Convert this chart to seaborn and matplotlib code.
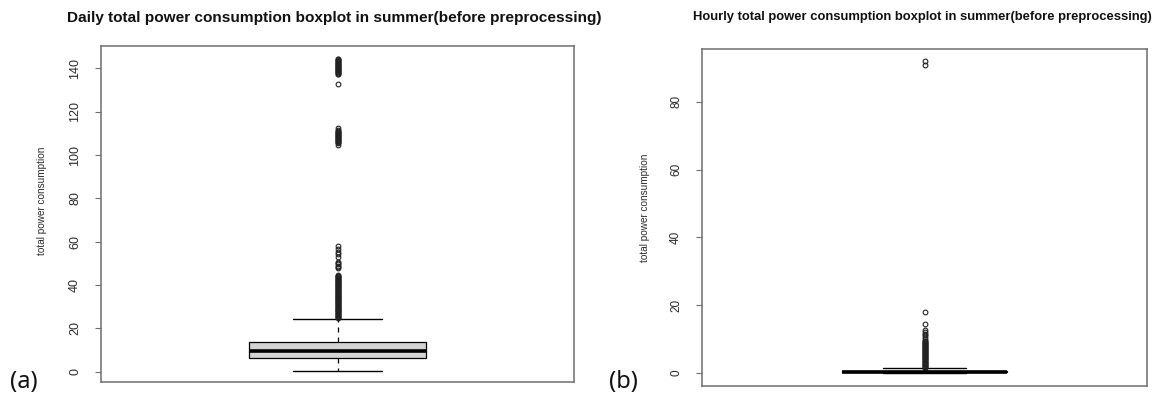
import numpy as np
import pandas as pd
import matplotlib
matplotlib.use("Agg")
import matplotlib.pyplot as plt
import seaborn as sns

# Daily totals: bulk of the distribution as value / frequency pairs
daily_values = [0.5, 3.0, 6.3, 8.0, 9.7, 11.5, 13.6, 18.0, 24.4]
daily_counts = [1, 100, 300, 150, 300, 150, 300, 100, 1]
# Daily totals beyond the upper fence
daily_outliers = [
    24.8, 25.1, 25.4, 25.7, 26.0, 26.3, 26.6, 26.9, 27.2, 27.5, 27.8, 28.1,
    28.4, 28.7, 29.0, 29.3, 29.6, 29.9, 30.2, 30.5, 30.8, 31.1, 31.4, 31.7,
    32.0, 32.3, 32.6, 32.9, 33.2, 33.5, 33.8, 34.1, 34.4, 34.7, 35.0, 35.3,
    35.6, 35.9, 36.2, 36.5, 36.8, 37.1, 37.4, 37.7, 38.0, 38.3, 38.6, 38.9,
    39.2, 39.5, 39.8, 40.1, 40.4, 40.7, 41.0, 41.3, 41.6, 41.9, 42.2, 42.5,
    42.8, 43.1, 43.4, 43.7, 44.0, 44.3, 44.6,
    47.7, 48.3, 49.0, 49.6, 50.2, 50.8, 53.1, 54.2, 55.1, 56.5, 58.2,
    104.5, 105.6, 105.9, 106.2, 106.5, 106.8, 107.1, 107.4, 107.7, 108.0,
    108.3, 108.6, 108.9, 109.2, 109.5, 109.8, 110.1, 110.4, 110.7, 111.0,
    111.5, 112.3,
    132.9, 137.2, 137.5, 137.8, 138.1, 138.4, 138.7, 139.0, 139.3, 139.6,
    139.9, 140.2, 140.5, 140.8, 141.1, 141.4, 141.7, 142.0, 142.3, 142.6,
    142.9, 143.2, 143.5, 143.8, 144.1, 144.4,
]

# Hourly totals: bulk as value / frequency pairs
hourly_values = [0.0, 0.05, 0.1, 0.2, 0.3, 0.45, 0.6, 0.9, 1.3]
hourly_counts = [1, 200, 600, 300, 600, 300, 600, 200, 1]
# Hourly totals beyond the upper fence
hourly_outliers = [
    1.5, 1.7, 1.9, 2.1, 2.3, 2.5, 2.7, 2.9, 3.1, 3.3, 3.5, 3.7, 3.9, 4.1,
    4.3, 4.5, 4.7, 4.9, 5.1, 5.3, 5.5, 5.7, 5.9, 6.1, 6.3, 6.5, 6.7, 6.9,
    7.1, 7.3, 7.5, 7.7, 7.9, 8.1, 8.3, 8.5, 8.7, 8.9, 9.1, 9.3, 9.5,
    10.0, 10.5, 11.0, 11.5, 12.1, 12.6, 14.4, 18.0, 90.9, 92.0,
]

daily_ticks = [0, 20, 40, 60, 80, 100, 120, 140]
hourly_ticks = [0, 20, 40, 60, 80]

daily_title = "Daily total power consumption boxplot in summer(before preprocessing)"
hourly_title = "Hourly total power consumption boxplot in summer(before preprocessing)"
y_label = "total power consumption"

daily = np.concatenate([np.repeat(daily_values, daily_counts), daily_outliers])
hourly = np.concatenate([np.repeat(hourly_values, hourly_counts), hourly_outliers])
df_daily = pd.DataFrame({"power": daily})
df_hourly = pd.DataFrame({"power": hourly})

sns.set_style("white")
plt.rcParams["font.family"] = ["Liberation Sans", "DejaVu Sans"]

fig = plt.figure(figsize=(11.68, 4.05), dpi=100)
ax1 = fig.add_axes([101 / 1168, 23 / 405, 473 / 1168, 336 / 405])
ax2 = fig.add_axes([702 / 1168, 19 / 405, 445 / 1168, 337 / 405])

frame_col = "#6e6e6e"
text_col = "#2b2b2b"


def draw_box(ax, df, ylim, ticks, tick_size, label_pos):
    sns.boxplot(
        data=df, y="power", ax=ax, width=0.373, color="#D3D3D3",
        saturation=1, linecolor="black", linewidth=1.0, whis=1.5,
        flierprops=dict(marker="o", markerfacecolor="none",
                        markeredgecolor="#222222", markeredgewidth=0.8,
                        markersize=3.4),
        medianprops=dict(color="black", linewidth=2.6),
        whiskerprops=dict(color="black", linestyle=(0, (4, 4)), linewidth=0.9),
        capprops=dict(color="black", linewidth=1.0),
        boxprops=dict(edgecolor="black", linewidth=0.9),
    )
    ax.set_xlim(-0.5, 0.5)
    ax.set_ylim(*ylim)
    ax.set_xticks([])
    ax.set_xlabel("")
    ax.set_yticks(ticks)
    ax.set_yticklabels([str(t) for t in ticks])
    ax.tick_params(axis="y", which="both", left=True, length=4.3, width=0.8,
                   color=frame_col, pad=10, labelsize=tick_size,
                   labelcolor=text_col, labelrotation=90)
    for lbl in ax.get_yticklabels():
        lbl.set_va("center")
    for sp in ax.spines.values():
        sp.set_visible(True)
        sp.set_color(frame_col)
        sp.set_linewidth(1.1)
    ax.set_ylabel(y_label, fontsize=7.2, color=text_col)
    ax.yaxis.set_label_coords(label_pos[0], label_pos[1])


draw_box(ax1, df_daily, (-4.75, 150.3), daily_ticks, 9, (-0.115, 0.54))
draw_box(ax2, df_hourly, (-3.93, 95.6), hourly_ticks, 8.5, (-0.117, 0.53))

fig.text(334 / 1168, 1 - 18 / 405, daily_title, ha="center", va="center",
         fontsize=11.1, fontweight="bold", color="#111111")
fig.text(922 / 1168, 1 - 17 / 405, hourly_title, ha="center", va="center",
         fontsize=9.4, fontweight="bold", color="#111111")

fig.text(24 / 1168, 1 - 382 / 405, "(a)", ha="center", va="center",
         fontsize=17, family=["Noto Sans", "DejaVu Sans"], color="#111111")
fig.text(623 / 1168, 1 - 382 / 405, "(b)", ha="center", va="center",
         fontsize=17, family=["Noto Sans", "DejaVu Sans"], color="#111111")

fig.savefig("out.png", dpi=100)
